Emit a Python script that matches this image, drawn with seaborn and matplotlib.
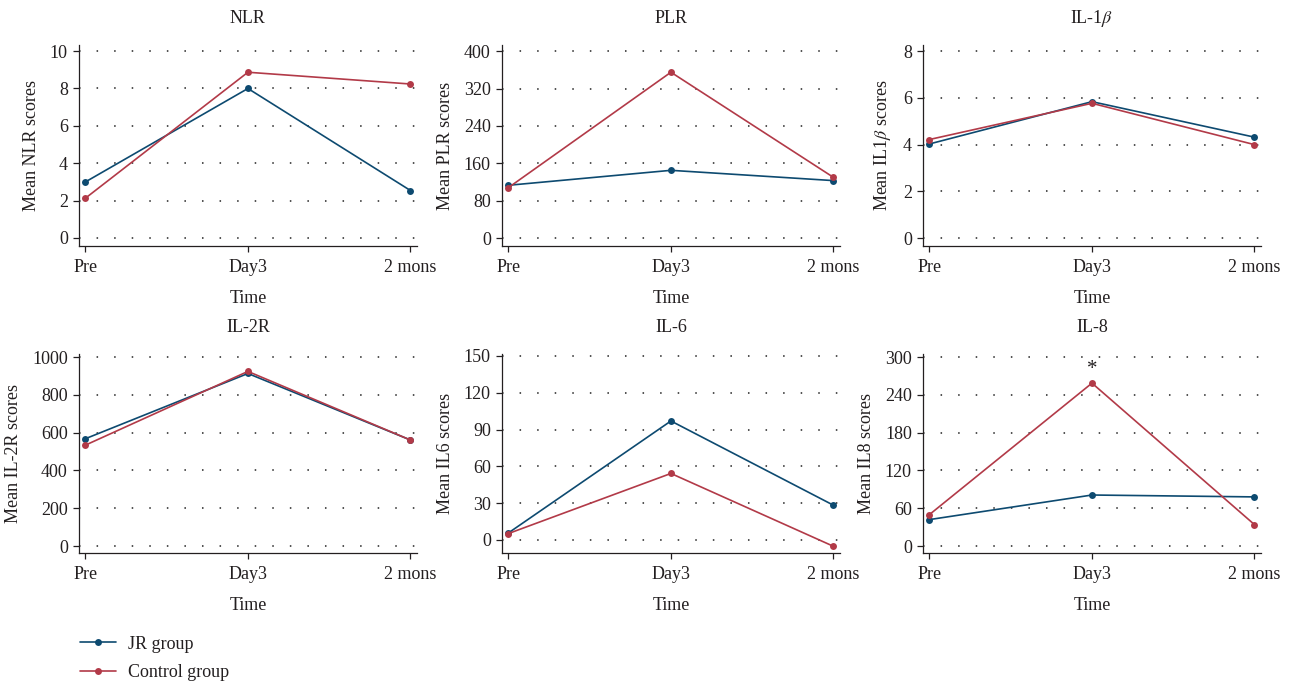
import pandas as pd
import matplotlib.pyplot as plt
import seaborn as sns

# Dữ liệu
times = ["Pre", "Day3", "2 mons"]
groups = ["JR group", "Control group"]

titles = ["NLR", "PLR", r"IL-1$\beta$", "IL-2R", "IL-6", "IL-8"]
ylabels = [
    "Mean NLR scores",
    "Mean PLR scores",
    r"Mean IL1$\beta$ scores",
    "Mean IL-2R scores",
    "Mean IL6 scores",
    "Mean IL8 scores",
]

jr_nlr = [3.0, 8.0, 2.54]
ctrl_nlr = [2.13, 8.87, 8.24]
jr_plr = [113, 145, 123]
ctrl_plr = [108, 355, 130]
jr_il1b = [4.03, 5.84, 4.32]
ctrl_il1b = [4.22, 5.77, 4.0]
jr_il2r = [568, 913, 561]
ctrl_il2r = [534, 924, 561]
jr_il6 = [5.7, 97, 28.3]
ctrl_il6 = [5.2, 54.2, -5.2]
jr_il8 = [42, 81, 78]
ctrl_il8 = [50, 258.6, 34]

jr_all = [jr_nlr, jr_plr, jr_il1b, jr_il2r, jr_il6, jr_il8]
ctrl_all = [ctrl_nlr, ctrl_plr, ctrl_il1b, ctrl_il2r, ctrl_il6, ctrl_il8]

yticks_all = [
    [0, 2, 4, 6, 8, 10],
    [0, 80, 160, 240, 320, 400],
    [0, 2, 4, 6, 8],
    [0, 200, 400, 600, 800, 1000],
    [0, 30, 60, 90, 120, 150],
    [0, 60, 120, 180, 240, 300],
]
ylims = [
    (-0.43, 10.32),
    (-17, 413),
    (-0.34, 8.26),
    (-37, 1016),
    (-10.7, 151.6),
    (-11.1, 304.8),
]

# Dấu * trên IL-8 Day3
star_panel = 5
star_time = "Day3"
star_y = 281

blue = "#0d4a70"
red = "#b23a48"
txt = "#231f20"
fs = 13

sns.set_theme(style="white")
plt.rcParams["font.family"] = ["Liberation Serif", "DejaVu Serif"]
plt.rcParams["mathtext.fontset"] = "stix"

fig = plt.figure(figsize=(12.9, 6.82), dpi=100)

lefts = [0.0612, 0.3891, 0.7155]
bottoms = [0.6393, 0.1891]
heights = [0.2945, 0.2918]
w = 0.262

axes = []
for i in range(6):
    r, c = divmod(i, 3)
    ax = fig.add_axes([lefts[c], bottoms[r], w, heights[r]])
    axes.append(ax)

    df = pd.DataFrame(
        {
            "Time": times * 2,
            "Group": [groups[0]] * 3 + [groups[1]] * 3,
            "Value": jr_all[i] + ctrl_all[i],
        }
    )
    sns.lineplot(
        data=df,
        x="Time",
        y="Value",
        hue="Group",
        palette=[blue, red],
        marker="o",
        markersize=5,
        markeredgewidth=0,
        linewidth=1.2,
        sort=False,
        ax=ax,
        legend=(i == 0),
    )

    ax.set_xlim(-0.04, 2.04)
    ax.set_ylim(*ylims[i])
    ax.set_yticks(yticks_all[i])
    ax.set_title(titles[i], fontsize=fs, color=txt, pad=16)
    ax.set_ylabel(ylabels[i], fontsize=fs, color=txt, labelpad=7)
    ax.set_xlabel("Time", fontsize=fs, color=txt, labelpad=10)

    ax.grid(axis="y", color="#222222", linestyle=(0, (1, 10.5)), linewidth=1.1)
    ax.grid(axis="x", visible=False)
    for s in ["top", "right"]:
        ax.spines[s].set_visible(False)
    for s in ["left", "bottom"]:
        ax.spines[s].set_color("#231f20")
        ax.spines[s].set_linewidth(0.9)
    ax.tick_params(
        axis="both",
        direction="out",
        length=4.5,
        width=0.9,
        color="#231f20",
        labelsize=fs,
        labelcolor=txt,
        left=True,
        bottom=True,
    )
    ax.tick_params(axis="x", pad=5)

    if i == star_panel:
        ax.text(star_time, star_y, "*", ha="center", va="center",
                fontsize=15, color=txt)

handles, labels = axes[0].get_legend_handles_labels()
axes[0].get_legend().remove()
fig.legend(
    handles,
    labels,
    loc="upper left",
    bbox_to_anchor=(0.055, 0.081),
    frameon=False,
    fontsize=fs,
    handlelength=2.0,
    handletextpad=0.65,
    labelspacing=0.62,
    borderpad=0,
    labelcolor=txt,
)

plt.savefig("out.png", dpi=100)
plt.close()
